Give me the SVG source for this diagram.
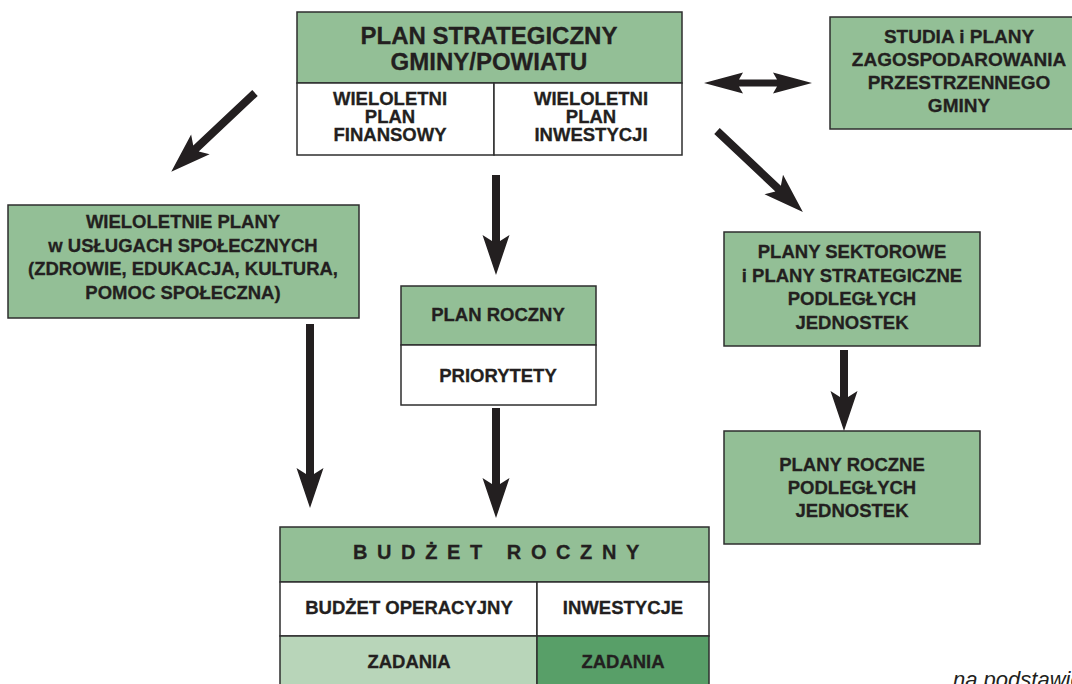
<svg xmlns="http://www.w3.org/2000/svg" width="1072" height="684" viewBox="0 0 1072 684">
<style>
.bg{fill:#ffffff}
.g{fill:#93bf96;stroke:#2e2e2e;stroke-width:1.5}
.w{fill:#ffffff;stroke:#2e2e2e;stroke-width:1.5}
.lg{fill:#b8d5b9;stroke:#2e2e2e;stroke-width:1.5}
.dg{fill:#589f68;stroke:#2e2e2e;stroke-width:1.5}
text{font-family:"Liberation Sans",Arial,Helvetica,sans-serif;font-weight:bold;fill:#231f20;text-anchor:middle;stroke:#231f20;stroke-width:0.3}
.t18{font-size:18.5px}
.t19{font-size:19px}
.title{font-size:24px}
.arr{fill:#231f20}
.note{font-weight:normal;font-style:italic;font-size:22px;text-anchor:start;stroke:none}
</style>
<rect class="bg" x="0" y="0" width="1072" height="684"/>

<g id="plan-strategiczny">
<rect class="g" x="297" y="12" width="385" height="71"/>
<rect class="w" x="297" y="83" width="197" height="72"/>
<rect class="w" x="494" y="83" width="188" height="72"/>
<text class="title"><tspan x="489" y="44">PLAN STRATEGICZNY</tspan><tspan x="489" y="70">GMINY/POWIATU</tspan></text>
<text class="t18"><tspan x="390" y="105">WIELOLETNI</tspan><tspan x="390" y="123">PLAN</tspan><tspan x="390" y="141">FINANSOWY</tspan></text>
<text class="t18"><tspan x="591" y="105">WIELOLETNI</tspan><tspan x="591" y="123">PLAN</tspan><tspan x="591" y="141">INWESTYCJI</tspan></text>
</g>

<g id="studia">
<rect class="g" x="830" y="17" width="260" height="112"/>
<text class="t19"><tspan x="959" y="43">STUDIA i PLANY</tspan><tspan x="959" y="66">ZAGOSPODAROWANIA</tspan><tspan x="959" y="89">PRZESTRZENNEGO</tspan><tspan x="959" y="112">GMINY</tspan></text>
</g>

<g id="wieloletnie-plany">
<rect class="g" x="8" y="205" width="351" height="113"/>
<text class="t18"><tspan x="183" y="228">WIELOLETNIE PLANY</tspan><tspan x="183" y="251.5">w USŁUGACH SPOŁECZNYCH</tspan><tspan x="183" y="275">(ZDROWIE, EDUKACJA, KULTURA,</tspan><tspan x="183" y="298.5">POMOC SPOŁECZNA)</tspan></text>
</g>

<g id="plan-roczny">
<rect class="g" x="401" y="286" width="195" height="59"/>
<rect class="w" x="401" y="345" width="195" height="60"/>
<text class="t18" x="498" y="321">PLAN ROCZNY</text>
<text class="t18" x="498" y="382">PRIORYTETY</text>
</g>

<g id="plany-sektorowe">
<rect class="g" x="724" y="232" width="256" height="114"/>
<text class="t18"><tspan x="852" y="258">PLANY SEKTOROWE</tspan><tspan x="852" y="281.5">i PLANY STRATEGICZNE</tspan><tspan x="852" y="305">PODLEGŁYCH</tspan><tspan x="852" y="328.5">JEDNOSTEK</tspan></text>
</g>

<g id="plany-roczne">
<rect class="g" x="724" y="431" width="256" height="113"/>
<text class="t18"><tspan x="852" y="470.5">PLANY ROCZNE</tspan><tspan x="852" y="493.5">PODLEGŁYCH</tspan><tspan x="852" y="516.5">JEDNOSTEK</tspan></text>
</g>

<g id="budzet-roczny">
<rect class="g" x="280" y="527" width="429" height="55"/>
<rect class="w" x="280" y="582" width="257" height="54"/>
<rect class="w" x="537" y="582" width="172" height="54"/>
<rect class="lg" x="280" y="636" width="257" height="60"/>
<rect class="dg" x="537" y="636" width="172" height="60"/>
<text x="353" y="559" style="font-size:20px;text-anchor:start;letter-spacing:9.6px">BUDŻET ROCZNY</text>
<text class="t18" x="409" y="614">BUDŻET OPERACYJNY</text>
<text class="t18" x="623" y="614">INWESTYCJE</text>
<text class="t18" x="409" y="668">ZADANIA</text>
<text class="t18" x="623" y="668">ZADANIA</text>
</g>

<g id="connectors" class="arr">
<polygon transform="translate(496,175) rotate(90)" points="0,-4 66,-4 60,-13.5 100,0 60,13.5 66,4 0,4"/>
<polygon transform="translate(496,408) rotate(90)" points="0,-4 76,-4 70,-13.5 110,0 70,13.5 76,4 0,4"/>
<polygon transform="translate(310,324) rotate(90)" points="0,-4 150,-4 144,-13.5 184,0 144,13.5 150,4 0,4"/>
<polygon transform="translate(844,350) rotate(90)" points="0,-4 47,-4 41,-13.5 81,0 41,13.5 47,4 0,4"/>
<polygon transform="translate(255,93) rotate(136.75)" points="0,-4 81,-4 75,-13.5 115,0 75,13.5 81,4 0,4"/>
<polygon transform="translate(717,131) rotate(43.3)" points="0,-4 84,-4 78,-13.5 118,0 78,13.5 84,4 0,4"/>
<polygon points="704,83 743,72.5 739,79.5 777,79.5 773,72.5 812,83 773,93.5 777,86.5 739,86.5 743,93.5"/>
</g>

<text class="note" x="953" y="687">na podstawie</text>
</svg>
